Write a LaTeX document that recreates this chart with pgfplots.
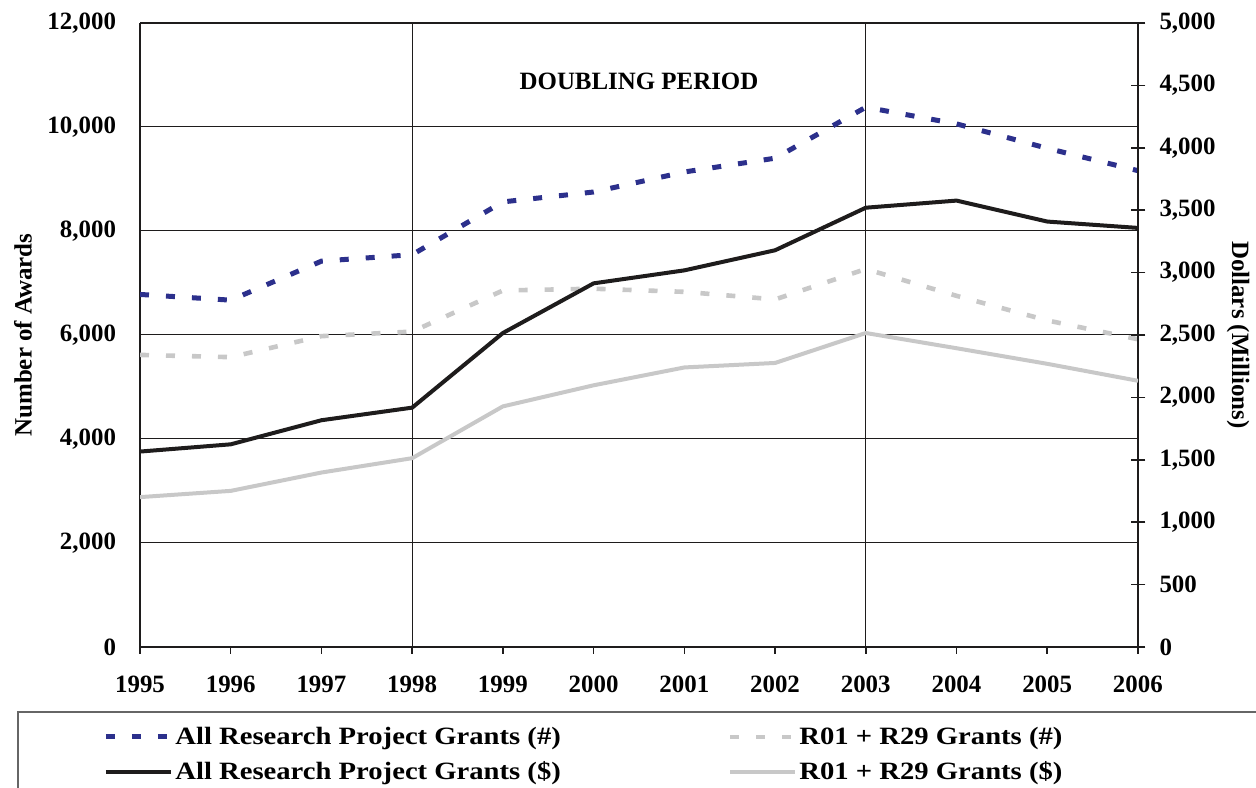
\documentclass[border=0pt]{standalone}
\usepackage{fontspec}
\setmainfont{Liberation Serif}
\newfontfamily\legfont[FakeStretch=1.15]{Liberation Serif}
\usepackage{pgfplots}
\usepackage{pgfplotstable}
\pgfplotsset{compat=1.18}
\definecolor{navy}{RGB}{44,48,140}
\definecolor{lgray}{RGB}{200,200,200}
\definecolor{dk}{RGB}{30,28,28}

\pgfplotstableread{
year nall nr01 dall dr01
1995 6780 5617 1566 1201
1996 6670 5574 1624 1251
1997 7420 5978 1817 1398
1998 7545 6065 1918 1513
1999 8560 6856 2516 1928
2000 8750 6890 2914 2097
2001 9135 6830 3018 2240
2002 9400 6684 3179 2276
2003 10380 7269 3520 2516
2004 10060 6753 3577 2394
2005 9590 6280 3409 2269
2006 9160 5918 3358 2133
}\data

\begin{document}
\begin{tikzpicture}[font=\bfseries\fontsize{12.5}{15}\selectfont]
\path[use as bounding box] (0,0) rectangle (628bp,394bp);
\pgfplotsset{common/.style={
  at={(70bp,70.5bp)}, anchor=south west, scale only axis,
  width=499bp, height=312bp, xmin=1995, xmax=2006,
  /pgf/number format/assume math mode=true,
  /pgf/number format/1000 sep={,},
  scaled y ticks=false,
  tick label style={font=\bfseries\fontsize{12.5}{15}\selectfont},
  label style={font=\bfseries\fontsize{12.5}{15}\selectfont},
  axis line style={line width=0.9bp, dk},
}}
\begin{axis}[common,
  ymin=0, ymax=12000, ytick={0,2000,...,12000},
  axis y line*=left,
  xtick={1995,...,2006}, xtick pos=bottom,
  x tick label style={/pgf/number format/1000 sep={}, yshift=-7.5bp},
  y tick label style={xshift=-5bp},
  tick align=outside, major tick length=3.5bp,
  xtick style={dk, line width=0.75bp},
  ytick style={draw=none},
  ymajorgrids, major grid style={dk, line width=0.5bp},
  extra x ticks={1998,2003}, extra x tick labels={},
  extra x tick style={grid=major},
  ylabel={Number of Awards},
  ylabel style={at={(axis description cs:-0.1172,0.5)}, anchor=center},
]
\addplot[navy, line width=2.5bp, dash pattern=on 4.5bp off 8.5bp] table[x=year, y=nall] {\data};
\addplot[lgray, line width=2.3bp, dash pattern=on 4.5bp off 8.5bp] table[x=year, y=nr01] {\data};
\node at (axis cs:2000.5,10870) {DOUBLING PERIOD};
\end{axis}
\begin{axis}[common,
  ymin=0, ymax=5000, ytick={0,500,...,5000},
  axis y line*=right, axis x line=none, xtick=\empty,
  tick align=center, major tick length=7.5bp,
  ytick style={dk, line width=0.75bp},
  y tick label style={xshift=3.5bp},
  ylabel={Dollars (Millions)},
  ylabel style={at={(axis description cs:1.1002,0.5)}, anchor=center, rotate=180},
  legend columns=2,
  legend cell align=left,
  legend style={at={(axis description cs:-0.0371,-0.124)}, anchor=north west,
    draw=none, fill=none, inner sep=0pt, row sep=5bp,
    nodes={inner sep=1bp},
    font=\legfont\bfseries\fontsize{12.5}{15}\selectfont,
    /tikz/every even column/.append style={column sep=82.5bp}},
  legend image code/.code={\draw[#1] (0bp,0bp) -- (32.5bp,0bp);},
]
\addlegendimage{navy, line width=2.5bp, dash pattern=on 4.5bp off 8.5bp}
\addlegendentry{All Research Project Grants (\#)}
\addlegendimage{lgray, line width=2.3bp, dash pattern=on 4.5bp off 8.5bp}
\addlegendentry{R01 + R29 Grants (\#)}
\addplot[dk, line width=2bp] table[x=year, y=dall] {\data};
\addlegendentry{All Research Project Grants (\$)}
\addplot[lgray, line width=2bp] table[x=year, y=dr01] {\data};
\addlegendentry{R01 + R29 Grants (\$)}
\end{axis}
\draw[line width=0.6bp, black!60] (9bp,-20bp) rectangle (700bp,38bp);
\end{tikzpicture}
\end{document}
